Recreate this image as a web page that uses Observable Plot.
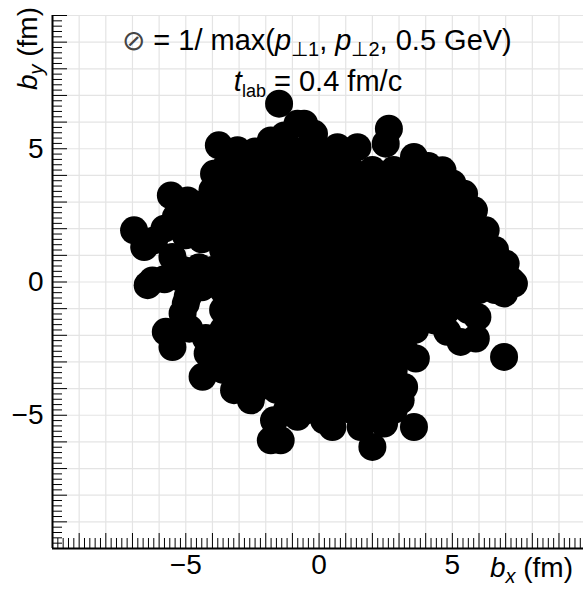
<!DOCTYPE html>
<html>
<head>
<meta charset="utf-8">
<script src="https://cdn.jsdelivr.net/npm/d3@7"></script>
<script src="https://cdn.jsdelivr.net/npm/@observablehq/plot@0.6"></script>
<style>
  html, body { margin: 0; padding: 0; background: white; }
</style>
</head>
<body>
<div id="chart"></div>
<script>
// Axis tick labels
const xTickLabels = [-5, 0, 5];
const yTickLabels = [-5, 0, 5];

// Outer (boundary) circles: [b_x, b_y] in fm
const edgeCircles = [
  [-1.50, 6.69], [-0.81, 5.94], [-0.25, 5.50], [-1.81, 5.31], [-3.76, 5.13], [-3.06, 4.94],
  [-3.94, 4.06], [-5.56, 3.25], [-4.93, 3.06], [-4.81, 2.38], [-5.37, 2.44], [-6.94, 1.94],
  [-6.19, 1.56], [-6.56, 1.31], [-6.25, 0.06], [-5.50, 0.94], [-5.31, 0.19], [-5.00, -0.81],
  [-6.43, -0.12], [-5.75, -1.87], [-5.50, -2.44], [-4.87, -1.75], [-5.12, -1.18], [-4.93, -0.56],
  [-4.37, -3.56], [-4.18, -2.68], [-3.19, -4.06], [-2.56, -4.44], [-1.81, -5.94], [-1.44, -5.94],
  [-1.69, -5.19], [-0.81, -5.06], [0.19, -5.19],
  [0.50, -5.44], [2.00, -6.19], [1.56, -5.44], [2.44, -5.31], [3.56, -5.44], [3.06, -4.44],
  [3.19, -3.94], [3.63, -2.87], [5.31, -2.25], [5.88, -2.12], [5.94, -1.31], [4.81, -1.87],
  [6.94, -0.43], [7.31, -0.06], [4.31, -1.44],
  [-0.56, 5.94], [-0.19, 5.56], [0.69, 5.06], [1.44, 5.06], [2.62, 5.75], [2.50, 5.19],
  [3.56, 4.69], [4.63, 4.19], [5.44, 3.31], [5.81, 2.69], [6.25, 1.94], [7.00, 0.69],
  [7.19, 0.06], [6.94, -0.31], [6.31, 0.19], [5.81, 1.31]
];

// Isolated circle on the right
const isolatedCircles = [[6.94, -2.81]];

// Circles of the left lobe and other connectors
const lobeCircles = [
  [-4.6, 2.9], [-4.3, 2.2], [-4.4, 1.6], [-5.0, 1.75], [-5.8, 2.0], [-4.5, 0.55], [-5.1, 0.45],
  [-4.55, 0.0], [-5.8, 0.1], [-4.4, -0.2], [-4.25, -2.1], [-1.3, 5.5], [4.1, 4.35], [5.0, 3.7]
];

// Interior circles (the dense core), row by row
const coreCircles = [
  [-2.4, 4.9], [-1.6, 4.9], [-0.8, 4.9], [0.0, 4.9], [0.8, 4.9],
  [-3.6, 4.2], [-2.8, 4.2], [-2.0, 4.2], [-1.2, 4.2], [-0.4, 4.2], [0.4, 4.2], [1.2, 4.2], [2.0, 4.2], [2.8, 4.2], [3.6, 4.2],
  [-4.0, 3.45], [-3.2, 3.45], [-2.4, 3.45], [-1.6, 3.45], [-0.8, 3.45], [0.0, 3.45], [0.8, 3.45], [1.6, 3.45], [2.4, 3.45], [3.2, 3.45], [4.0, 3.45], [4.8, 3.45],
  [-4.4, 2.7], [-3.6, 2.7], [-2.8, 2.7], [-2.0, 2.7], [-1.2, 2.7], [-0.4, 2.7], [0.4, 2.7], [1.2, 2.7], [2.0, 2.7], [2.8, 2.7], [3.6, 2.7], [4.4, 2.7], [5.2, 2.7],
  [-4.0, 1.95], [-3.2, 1.95], [-2.4, 1.95], [-1.6, 1.95], [-0.8, 1.95], [0.0, 1.95], [0.8, 1.95], [1.6, 1.95], [2.4, 1.95], [3.2, 1.95], [4.0, 1.95], [4.8, 1.95], [5.6, 1.95],
  [-3.6, 1.2], [-2.8, 1.2], [-2.0, 1.2], [-1.2, 1.2], [-0.4, 1.2], [0.4, 1.2], [1.2, 1.2], [2.0, 1.2], [2.8, 1.2], [3.6, 1.2], [4.4, 1.2], [5.2, 1.2], [6.0, 1.2], [6.6, 1.2],
  [-4.0, 0.45], [-3.2, 0.45], [-2.4, 0.45], [-1.6, 0.45], [-0.8, 0.45], [0.0, 0.45], [0.8, 0.45], [1.6, 0.45], [2.4, 0.45], [3.2, 0.45], [4.0, 0.45], [4.8, 0.45], [5.6, 0.45], [6.4, 0.45],
  [-3.6, -0.3], [-2.8, -0.3], [-2.0, -0.3], [-1.2, -0.3], [-0.4, -0.3], [0.4, -0.3], [1.2, -0.3], [2.0, -0.3], [2.8, -0.3], [3.6, -0.3], [4.4, -0.3], [5.2, -0.3], [6.0, -0.3], [6.6, -0.3],
  [-3.6, -1.05], [-3.2, -1.05], [-2.4, -1.05], [-1.6, -1.05], [-0.8, -1.05], [0.0, -1.05], [0.8, -1.05], [1.6, -1.05], [2.4, -1.05], [3.2, -1.05], [4.0, -1.05], [4.8, -1.05], [5.6, -1.05],
  [-3.6, -1.8], [-2.8, -1.8], [-2.0, -1.8], [-1.2, -1.8], [-0.4, -1.8], [0.4, -1.8], [1.2, -1.8], [2.0, -1.8], [2.8, -1.8], [3.6, -1.8],
  [-4.0, -2.55], [-3.2, -2.55], [-2.4, -2.55], [-1.6, -2.55], [-0.8, -2.55], [0.0, -2.55], [0.8, -2.55], [1.6, -2.55], [2.4, -2.55], [3.2, -2.55],
  [-3.6, -3.3], [-2.8, -3.3], [-2.0, -3.3], [-1.2, -3.3], [-0.4, -3.3], [0.4, -3.3], [1.2, -3.3], [2.0, -3.3], [2.8, -3.3],
  [-2.4, -4.05], [-1.6, -4.05], [-0.8, -4.05], [0.0, -4.05], [0.8, -4.05], [1.6, -4.05], [2.4, -4.05],
  [-1.2, -4.8], [-0.4, -4.8], [0.4, -4.8], [1.2, -4.8], [2.0, -4.8], [2.8, -4.8]
];

const circles = [...coreCircles, ...lobeCircles, ...edgeCircles, ...isolatedCircles];

const W = 583, H = 589;
const mL = 52, mR = 0, mT = 15, mB = 41;
const innerW = W - mL - mR, innerH = H - mT - mB;
const majorTicks = d3.range(-10, 10.001, 1);
const minorTicks = d3.range(-10, 10.001, 0.2).filter(v => Math.abs(v - Math.round(v)) > 1e-6);
const fmt = d => d < 0 ? "\u2212" + (-d) : String(d);

const svg = Plot.plot({
  width: W,
  height: H,
  marginLeft: mL,
  marginRight: mR,
  marginTop: mT,
  marginBottom: mB,
  x: {domain: [-10, 9.92]},
  y: {domain: [-10, 10]},
  style: {fontFamily: "'Liberation Sans', Arial, Helvetica, sans-serif", fontSize: "28px", background: "white", color: "black"},
  marks: [
    Plot.gridX(majorTicks, {stroke: "#e4e4e4", strokeOpacity: 1, strokeWidth: 1.2}),
    Plot.gridY(majorTicks, {stroke: "#e4e4e4", strokeOpacity: 1, strokeWidth: 1.2}),
    // inward ticks
    Plot.ruleX(majorTicks, {x: d => d, insetTop: innerH - 15, stroke: "black", strokeWidth: 1}),
    Plot.ruleX(minorTicks, {x: d => d, insetTop: innerH - 10, stroke: "black", strokeWidth: 1}),
    Plot.ruleY(majorTicks, {y: d => d, insetRight: innerW - 15, stroke: "black", strokeWidth: 1}),
    Plot.ruleY(minorTicks, {y: d => d, insetRight: innerW - 10, stroke: "black", strokeWidth: 1}),
    Plot.dot(circles, {x: d => d[0], y: d => d[1], r: 14, fill: "black", stroke: null}),
    Plot.ruleX([-10], {stroke: "black", strokeWidth: 2}),
    Plot.ruleY([-10], {stroke: "black", strokeWidth: 2}),
    Plot.axisX(xTickLabels, {tickSize: 0, tickPadding: 6, fontSize: 28, tickFormat: fmt, label: null}),
    Plot.axisY(yTickLabels, {tickSize: 0, tickPadding: 9, fontSize: 28, tickFormat: fmt, label: null})
  ]
});

const s = d3.select(svg);
const FONT = "'Liberation Sans', Arial, Helvetica, sans-serif";

// Title line 1
const t1 = s.append("text").attr("x", 317).attr("y", 50).attr("text-anchor", "middle")
  .attr("font-size", 29).attr("font-family", FONT).attr("fill", "black");
t1.append("tspan").attr("font-family", "'DejaVu Sans', sans-serif").attr("font-size", 28).attr("fill", "#444").attr("font-weight", 200).text("\u2298");
t1.append("tspan").text(" = 1/ max(");
t1.append("tspan").attr("font-style", "italic").text("p");
t1.append("tspan").attr("font-size", 20).attr("dy", 6).text("\u22A51");
t1.append("tspan").attr("dy", -6).text(", ");
t1.append("tspan").attr("font-style", "italic").text("p");
t1.append("tspan").attr("font-size", 20).attr("dy", 6).text("\u22A52");
t1.append("tspan").attr("dy", -6).text(", 0.5 GeV)");

// Title line 2
const t2 = s.append("text").attr("x", 318).attr("y", 91).attr("text-anchor", "middle")
  .attr("font-size", 29).attr("font-family", FONT).attr("fill", "black");
t2.append("tspan").attr("font-style", "italic").text("t");
t2.append("tspan").attr("font-size", 18).attr("dy", 6).text("lab");
t2.append("tspan").attr("dy", -6).text(" = 0.4 fm/c");

// x-axis label
const xl = s.append("text").attr("x", 573).attr("y", 577).attr("text-anchor", "end")
  .attr("font-size", 28).attr("font-family", FONT).attr("fill", "black");
xl.append("tspan").attr("font-style", "italic").text("b");
xl.append("tspan").attr("font-style", "italic").attr("font-size", 20).attr("dy", 6).text("x");
xl.append("tspan").attr("dy", -6).text(" (fm)");

// y-axis label
const yl = s.append("text").attr("transform", "translate(37,7) rotate(-90)").attr("text-anchor", "end")
  .attr("font-size", 28).attr("font-family", FONT).attr("fill", "black");
yl.append("tspan").attr("font-style", "italic").text("b");
yl.append("tspan").attr("font-style", "italic").attr("font-size", 20).attr("dy", 6).text("y");
yl.append("tspan").attr("dy", -6).text(" (fm)");

document.getElementById("chart").appendChild(svg);
</script>
</body>
</html>
